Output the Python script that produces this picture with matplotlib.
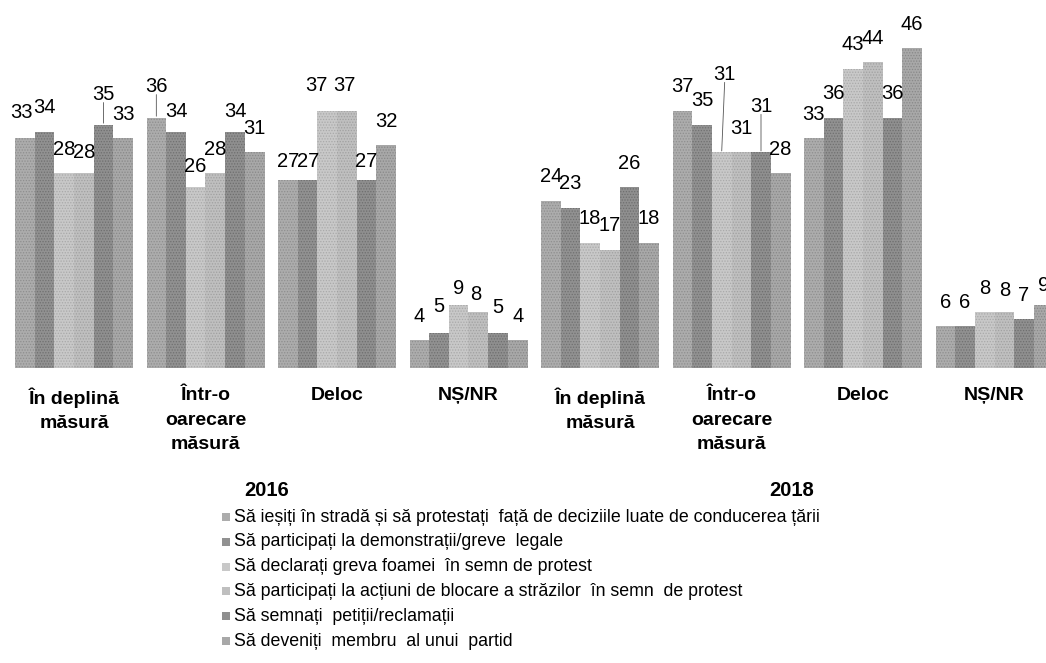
import matplotlib
matplotlib.use("Agg")
import matplotlib.pyplot as plt
from matplotlib.patches import Rectangle
from matplotlib.transforms import blended_transform_factory
import numpy as np

plt.rcParams['font.family'] = ['Liberation Sans', 'DejaVu Sans']
plt.rcParams['hatch.linewidth'] = 0.6

# ---------------- data ----------------
categories = ["În deplină\nmăsură", "Într-o\noarecare\nmăsură", "Deloc", "NȘ/NR",
              "În deplină\nmăsură", "Într-o\noarecare\nmăsură", "Deloc", "NȘ/NR"]
years = ["2016", "2018"]
series_names = [
    "Să ieșiți în stradă și să protestați  față de deciziile luate de conducerea țării",
    "Să participați la demonstrații/greve  legale",
    "Să declarați greva foamei  în semn de protest",
    "Să participați la acțiuni de blocare a străzilor  în semn  de protest",
    "Să semnați  petiții/reclamații",
    "Să deveniți  membru  al unui  partid",
]
s1 = [33, 36, 27, 4, 24, 37, 33, 6]
s2 = [34, 34, 27, 5, 23, 35, 36, 6]
s3 = [28, 26, 37, 9, 18, 31, 43, 8]
s4 = [28, 28, 37, 8, 17, 31, 44, 8]
s5 = [35, 34, 27, 5, 26, 31, 36, 7]
s6 = [33, 31, 32, 4, 18, 28, 46, 9]
series = [s1, s2, s3, s4, s5, s6]

# ---------------- style ----------------
colors = ["#acacac", "#919191", "#c8c8c8", "#bfbfbf", "#8f8f8f", "#a8a8a8"]
dots = ["#8e8e8e", "#707070", "#a9a9a9", "#a0a0a0", "#6e6e6e", "#888888"]
W, H = 1046, 663
DPI = 100
px = 72.0 / DPI  # points per pixel

# label offsets (dx, dy in pixels above bar top), leader flag
default_dy = 24
overrides = {
    (0, 0): (-3, 26, False), (0, 3): (0, 21, False), (0, 4): (0, 30, True),
    (1, 0): (0, 31, True), (1, 1): (0, 20, False), (1, 2): (0, 21, False),
    (1, 4): (0, 20, False),
    (2, 0): (0, 19, False), (2, 1): (1, 19, False), (2, 2): (-11, 25, False),
    (2, 3): (-2, 25, False), (2, 4): (0, 19, False),
    (3, 1): (0, 27, False), (3, 2): (0, 17, False), (3, 3): (-3, 18, False),
    (3, 4): (0, 26, False),
    (5, 2): (3, 78, True), (5, 4): (0, 46, True),
    (7, 3): (0, 22, False), (7, 5): (0, 20, False),
}

fig = plt.figure(figsize=(W / DPI, H / DPI), dpi=DPI)
base_px = 367.8
ax = fig.add_axes([0, (H - base_px) / H, 1, base_px / H])
pitch_px = 131.5
group_w = 118.0 / pitch_px
bw = group_w / 6
x0_px = 74.0
ax.set_xlim(-x0_px / pitch_px, (W - x0_px) / pitch_px)
ax.set_ylim(0, base_px / 6.95)
ax.axis('off')

x = np.arange(len(categories))
for i, vals in enumerate(series):
    xs = x - group_w / 2 + bw * (i + 0.5)
    ax.bar(xs, vals, width=bw, color=colors[i], edgecolor=dots[i],
           hatch='......', linewidth=0)
    for g, (xx, v) in enumerate(zip(xs, vals)):
        dx, dy, lead = overrides.get((g, i), (0, default_dy, False))
        ax.annotate(str(v), xy=(xx, v), xytext=(dx * px, dy * px),
                    textcoords='offset points', ha='center', va='center',
                    fontsize=14.5, color='black')
        if lead:
            ax.annotate("", xy=(xx, v), xytext=(dx * px, (dy - 8) * px),
                        textcoords='offset points',
                        arrowprops=dict(arrowstyle='-', color='#555555', lw=0.6,
                                        shrinkA=0, shrinkB=1))

# category labels
trans = blended_transform_factory(ax.transData, fig.transFigure)
for g, lab in enumerate(categories):
    ax.text(x[g], 1 - 387 / H, lab, transform=trans, ha='center', va='top',
            fontsize=14, fontweight='bold', linespacing=1.58, clip_on=False)

# year labels
fig.text(267 / W, 1 - 490 / H, years[0], ha='center', va='center',
         fontsize=14.5, fontweight='bold')
fig.text(792 / W, 1 - 490 / H, years[1], ha='center', va='center',
         fontsize=14.5, fontweight='bold')

# legend
for i, name in enumerate(series_names):
    yc = 517 + 24.8 * i
    fig.patches.append(Rectangle((222 / W, 1 - (yc + 4) / H), 8 / W, 8 / H,
                                 transform=fig.transFigure, facecolor=colors[i],
                                 edgecolor='none'))
    fig.text(234 / W, 1 - yc / H, name, ha='left', va='center', fontsize=12.8)

fig.savefig("out.png", dpi=DPI)
